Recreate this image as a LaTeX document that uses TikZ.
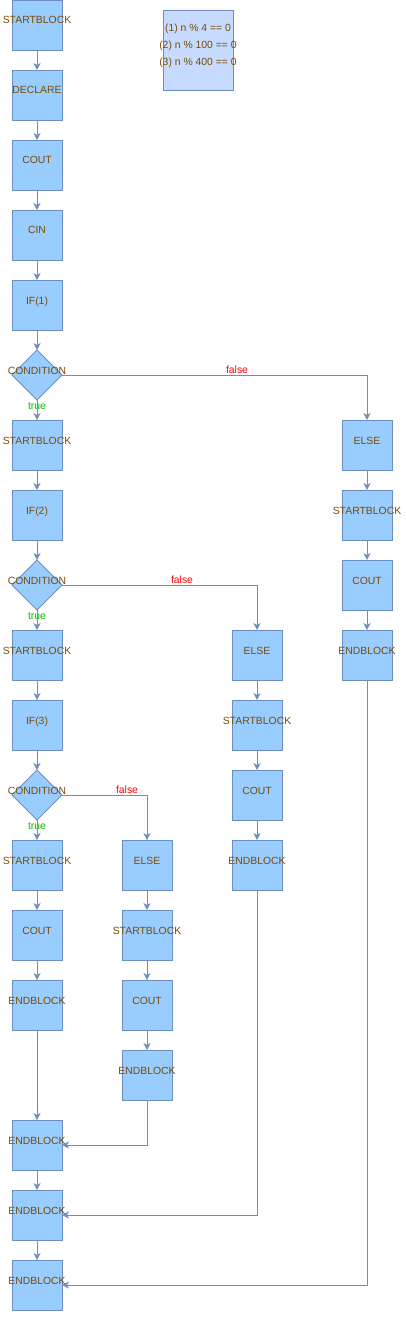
\documentclass[tikz,border=0pt]{standalone}
\usepackage{fontspec}
\setmainfont{Liberation Sans}
\usetikzlibrary{shapes.geometric,arrows.meta}
\definecolor{blkfill}{HTML}{99CCFF}
\definecolor{blkline}{HTML}{6C8EBF}
\definecolor{notefill}{HTML}{C6DBFF}
\definecolor{txtcol}{HTML}{7A4A00}
\definecolor{truecol}{HTML}{00BB00}
\definecolor{falsecol}{HTML}{FF0000}
\begin{document}
\begin{tikzpicture}[x=1pt,y=-1pt,
  blk/.style={rectangle,draw=blkline,fill=blkfill,line width=0.9pt,minimum size=50pt,inner sep=0pt,outer sep=0pt},
  cnd/.style={diamond,draw=blkline,fill=blkfill,line width=0.9pt,minimum size=50pt,inner sep=0pt,outer sep=0pt},
  notebox/.style={rectangle,draw=blkline,fill=notefill,line width=0.9pt,minimum width=70pt,minimum height=80pt,inner sep=0pt},
  txt/.style={anchor=base,yshift=1pt,inner sep=0pt,text=txtcol,font=\fontsize{10.4}{12}\selectfont},
  flow/.style={draw=blkline,line width=0.9pt,-{Stealth[length=7pt,width=7pt,inset=2pt]}},
  tl/.style={anchor=base,inner sep=0pt,text=truecol,font=\fontsize{10.4}{12}\selectfont},
  fl/.style={anchor=base,inner sep=0pt,text=falsecol,font=\fontsize{10.4}{12}\selectfont}]
 \useasboundingbox (0,0) rectangle (406,1332);
 % note
 \node[notebox] (note) at (198,50) {};
 \foreach \i/\v in {1/4,2/100,3/400}
   \node[txt] at (198,{17*\i+15.7}) {(\i) n \% \v{} == 0};
 % main column
 \foreach \r/\t in {0/STARTBLOCK,1/DECLARE,2/COUT,3/CIN,4/IF(1),6/STARTBLOCK,7/IF(2),9/STARTBLOCK,10/IF(3),12/STARTBLOCK,13/COUT,14/ENDBLOCK,16/ENDBLOCK,17/ENDBLOCK,18/ENDBLOCK}{
   \node[blk] (a\r) at (37,{70*\r+25}) {};
   \node[txt] at (a\r) {\t};}
 \foreach \r in {5,8,11}{
   \node[cnd] (a\r) at (37,{70*\r+25}) {};
   \node[txt] at (a\r) {CONDITION};
   \node[tl] at (37,{70*\r+59}) {true};}
 % else columns
 \foreach \i/\t in {0/ELSE,1/STARTBLOCK,2/COUT,3/ENDBLOCK}{
   \node[blk] (e\i) at (367,{70*(\i+6)+25}) {};
   \node[txt] at (e\i) {\t};
   \node[blk] (f\i) at (257,{70*(\i+9)+25}) {};
   \node[txt] at (f\i) {\t};
   \node[blk] (g\i) at (147,{70*(\i+12)+25}) {};
   \node[txt] at (g\i) {\t};}
 % connectors
 \foreach \i/\j in {0/1,1/2,2/3,3/4,4/5,5/6,6/7,7/8,8/9,9/10,10/11,11/12,12/13,13/14,14/16,16/17,17/18}
   \draw[flow] (a\i) -- (a\j);
 \foreach \i/\j in {0/1,1/2,2/3}{
   \draw[flow] (e\i) -- (e\j);
   \draw[flow] (f\i) -- (f\j);
   \draw[flow] (g\i) -- (g\j);}
 \draw[flow] (a5.east) -| (e0.north);
 \node[fl] at (237,373.5) {false};
 \draw[flow] (a8.east) -| (f0.north);
 \node[fl] at (182,583.5) {false};
 \draw[flow] (a11.east) -| (g0.north);
 \node[fl] at (127,793.5) {false};
 \draw[flow] (e3.south) |- (a18.east);
 \draw[flow] (f3.south) |- (a17.east);
 \draw[flow] (g3.south) |- (a16.east);
\end{tikzpicture}
\end{document}
